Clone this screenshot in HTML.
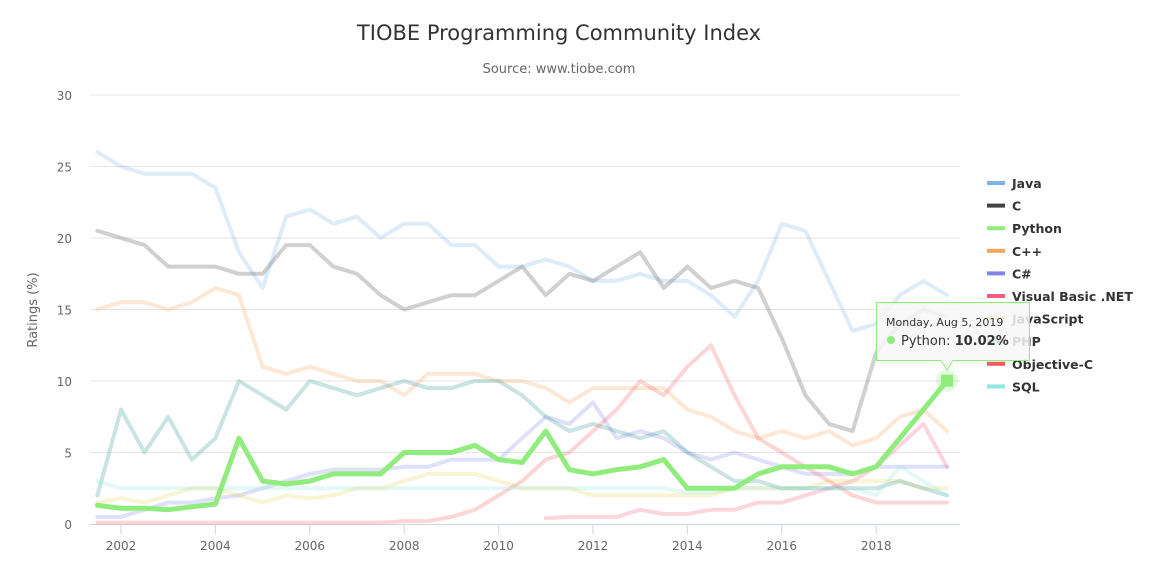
<!DOCTYPE html>
<html><head><meta charset="utf-8"><style>
body{margin:0;background:#fff;font-family:"DejaVu Sans",sans-serif}
svg text{font-family:"DejaVu Sans",sans-serif}
</style></head><body>
<svg id="chart" width="1174" height="569">
<text x="559" y="40" text-anchor="middle" font-size="21" fill="#333">TIOBE Programming Community Index</text>
<text x="559" y="73" text-anchor="middle" font-size="13" fill="#666">Source: www.tiobe.com</text>
<g id="grid"></g><g id="series"></g><g id="legend"></g><g id="tip"></g>
<text transform="translate(37,310) rotate(-90)" text-anchor="middle" font-size="13" fill="#666">Ratings (%)</text>
</svg>
<script>
const yTicks=[0,5,10,15,20,25,30];
const xTicks=[2002,2004,2006,2008,2010,2012,2014,2016,2018];
const startYear=2001.5, step=0.5;
const seriesNames=["Java","C","Python","C++","C#","Visual Basic .NET","JavaScript","PHP","Objective-C","SQL"];
const seriesColors=["#7cb5ec","#434348","#90ed7d","#f7a35c","#8085e9","#f15c80","#e4d354","#2b908f","#f45b5b","#91e8e1"];
const java=[26,25,24.5,24.5,24.5,23.5,19,16.5,21.5,22,21,21.5,20,21,21,19.5,19.5,18,18,18.5,18,17,17,17.5,17,17,16,14.5,17,21,20.5,17,13.5,14,16,17,16];
const c=[20.5,20,19.5,18,18,18,17.5,17.5,19.5,19.5,18,17.5,16,15,15.5,16,16,17,18,16,17.5,17,18,19,16.5,18,16.5,17,16.5,13,9,7,6.5,12,14,15,14.5];
const python=[1.3,1.1,1.1,1.0,1.2,1.4,6,3,2.8,3,3.5,3.5,3.5,5,5,5,5.5,4.5,4.3,6.5,3.8,3.5,3.8,4,4.5,2.5,2.5,2.5,3.5,4,4,4,3.5,4,6,8,10.02];
const cpp=[15,15.5,15.5,15,15.5,16.5,16,11,10.5,11,10.5,10,10,9,10.5,10.5,10.5,10,10,9.5,8.5,9.5,9.5,9.5,9.5,8,7.5,6.5,6,6.5,6,6.5,5.5,6,7.5,8,6.5];
const csharp=[0.5,0.5,1,1.5,1.5,1.8,2,2.5,3,3.5,3.8,3.8,3.8,4,4,4.5,4.5,4.5,6,7.5,7,8.5,6,6.5,6,5,4.5,5,4.5,4,3.5,3.5,3.5,4,4,4,4];
const vbnet=[null,null,null,null,null,null,null,null,null,null,null,null,null,null,null,null,null,null,null,0.4,0.5,0.5,0.5,1,0.7,0.7,1,1,1.5,1.5,2,2.5,3,4,5.5,7,4];
const javascript=[1.5,1.8,1.5,2,2.5,2.5,2,1.5,2,1.8,2,2.5,2.5,3,3.5,3.5,3.5,3,2.5,2.5,2.5,2,2,2,2,2,2,2.5,2.5,2.5,2.5,3,3,3,3,2.5,2.5];
const php=[2,8,5,7.5,4.5,6,10,9,8,10,9.5,9,9.5,10,9.5,9.5,10,10,9,7.5,6.5,7,6.5,6,6.5,5,4,3,3,2.5,2.5,2.5,2.5,2.5,3,2.5,2];
const objc=[0.1,0.1,0.1,0.1,0.1,0.1,0.1,0.1,0.1,0.1,0.1,0.1,0.1,0.2,0.2,0.5,1,2,3,4.5,5,6.5,8,10,9,11,12.5,9,6,5,4,3,2,1.5,1.5,1.5,1.5];
const sql=[3,2.5,2.5,2.5,2.5,2.5,2.5,2.5,2.5,2.5,2.5,2.5,2.5,2.5,2.5,2.5,2.5,2.5,2.5,2.5,2.5,2.5,2.5,2.5,2.5,2.2,2.2,2.5,2.5,2.5,2.5,2.5,2.5,2,4,3,2];
const allData=[java,c,python,cpp,csharp,vbnet,javascript,php,objc,sql];
const NS="http://www.w3.org/2000/svg";
const X0=90,X1=960,Y0=524,Y1=95;
const xs=yr=>121+(yr-2002)*47.2;
const ys=v=>Y0-(v-0)/30*(Y0-Y1);
function mk(t,a,p){const e=document.createElementNS(NS,t);for(const k in a)e.setAttribute(k,a[k]);p.appendChild(e);return e;}
const grid=document.getElementById('grid');
yTicks.forEach(t=>{
 if(t>0){const l=mk('line',{x1:X0,x2:X1,y1:ys(t),y2:ys(t),stroke:'#e6e6e6'},grid);
 
 }
 const tx=mk('text',{x:72,y:ys(t)+5,'text-anchor':'end','font-size':12,fill:'#666'},grid);tx.textContent=t;
 
 
});
const ax=mk('line',{x1:X0,x2:X1,y1:Y0+0.5,y2:Y0+0.5,stroke:'#ccd6eb'},grid);


xTicks.forEach(t=>{
 const tk=mk('line',{x1:xs(t),x2:xs(t),y1:Y0,y2:Y0+10,stroke:'#ccd6eb'},grid);
 
 
 const tx=mk('text',{x:xs(t),y:Y0+26,'text-anchor':'middle','font-size':12,fill:'#666'},grid);tx.textContent=t;
 
 
});
const sg=document.getElementById('series');
const order=[0,1,3,4,5,6,7,8,9,2];
order.forEach(i=>{
 const d=allData[i];let path='',pen=false;
 d.forEach((v,j)=>{if(v===null){pen=false;return;}const x=xs(startYear+j*step),y=ys(v);path+=(pen?'L':'M')+x.toFixed(1)+' '+y.toFixed(1)+' ';pen=true;});
 const p=mk('path',{d:path,fill:'none',stroke:seriesColors[i],'stroke-width':i===2?5:4,'stroke-linejoin':'round','stroke-linecap':'round',opacity:i===2?1:0.25},sg);
 
 
});
const lg=document.getElementById('legend');
seriesNames.forEach((n,i)=>{
 const y=183+i*22.6;
 const r=mk('rect',{x:987,y:y-2,width:18,height:4,fill:seriesColors[i]},lg);
 
 
 const t=mk('text',{x:1012,y:y+5,'font-size':12.5,'font-weight':'bold',fill:'#333'},lg);t.textContent=n;
 
 
});
const tg=document.getElementById('tip');
const lx=xs(startYear+(python.length-1)*step),ly=ys(python[python.length-1]);
const halo=mk('circle',{cx:lx,cy:ly,r:11,fill:'#90ed7d',opacity:0.25},tg);


const mkr=mk('rect',{x:lx-6,y:ly-6,width:12,height:12,fill:'#90ed7d'},tg);


const box=mk('path',{d:`M876.5 302.5 H1029.5 V360.5 H${lx+6} L${lx} 370 L${lx-6} 360.5 H876.5 Z`,fill:'rgba(247,247,247,0.85)',stroke:'#90ed7d','stroke-width':1},tg);


const t1=mk('text',{x:886,y:326,'font-size':11,fill:'#333'},tg);t1.textContent='Monday, Aug 5, 2019';


const dot=mk('circle',{cx:891,cy:340,r:4,fill:'#90ed7d'},tg);


const t2=mk('text',{x:901,y:345,'font-size':13,fill:'#333'},tg);


t2.innerHTML='Python: <tspan font-weight="bold">10.02%</tspan>';
</script>
</body></html>
